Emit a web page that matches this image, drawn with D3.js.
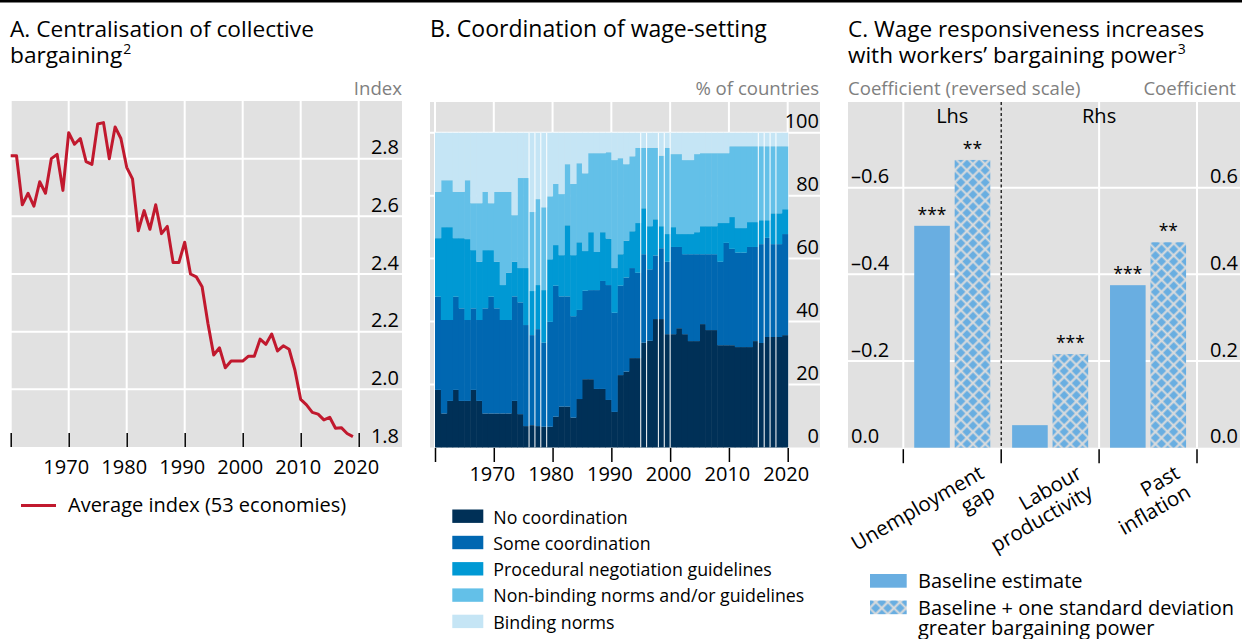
<!DOCTYPE html>
<html>
<head>
<meta charset="utf-8">
<script src="https://cdn.jsdelivr.net/npm/d3@7"></script>
<style>
  body { margin: 0; background: #fff; }
  svg { display: block; font-family: "Open Sans", sans-serif; }
</style>
</head>
<body>
<svg id="chart" width="1242" height="639"></svg>
<script>
// ---- data ----
var years = [1960, 1961, 1962, 1963, 1964, 1965, 1966, 1967, 1968, 1969,
             1970, 1971, 1972, 1973, 1974, 1975, 1976, 1977, 1978, 1979,
             1980, 1981, 1982, 1983, 1984, 1985, 1986, 1987, 1988, 1989,
             1990, 1991, 1992, 1993, 1994, 1995, 1996, 1997, 1998, 1999,
             2000, 2001, 2002, 2003, 2004, 2005, 2006, 2007, 2008, 2009,
             2010, 2011, 2012, 2013, 2014, 2015, 2016, 2017, 2018, 2019];

// panel A: average centralisation index
var indexValues = [2.81, 2.81, 2.64, 2.68, 2.635, 2.72, 2.68, 2.80, 2.815, 2.69,
                   2.89, 2.85, 2.87, 2.79, 2.78, 2.92, 2.925, 2.80, 2.91, 2.87,
                   2.77, 2.73, 2.55, 2.62, 2.555, 2.64, 2.54, 2.565, 2.44, 2.44,
                   2.51, 2.40, 2.39, 2.356, 2.229, 2.119, 2.144, 2.075, 2.098, 2.098,
                   2.098, 2.115, 2.115, 2.174, 2.156, 2.192, 2.133, 2.151, 2.139, 2.067,
                   1.965, 1.946, 1.92, 1.914, 1.894, 1.903, 1.865, 1.867, 1.847, 1.836];
var decades = [1960, 1970, 1980, 1990, 2000, 2010, 2020];
var indexTicks = [1.8, 2.0, 2.2, 2.4, 2.6, 2.8];

// panel B: share of countries by coordination type (%)
var coordCategories = ["No coordination", "Some coordination", "Procedural negotiation guidelines",
                       "Non-binding norms and/or guidelines", "Binding norms"];
var noCoordination = [18.3, 10.8, 14.8, 18.3, 14.8, 14.8, 18.3, 14.8, 10.8, 10.8,
                      10.8, 10.8, 10.8, 14.8, 10.6, 6.8, 7.1, 6.8, 6.6, 6.6,
                      9.8, 13.0, 13.0, 9.5, 15.4, 21.7, 21.7, 18.6, 18.6, 15.1,
                      11.3, 23.0, 24.1, 28.4, 28.4, 33.3, 33.9, 40.8, 40.8, 36.0,
                      36.0, 37.9, 36.0, 33.8, 33.8, 39.2, 37.3, 37.3, 32.5, 32.5,
                      32.5, 31.9, 31.9, 31.9, 33.8, 33.2, 35.1, 35.1, 35.1, 35.7];
var someCoordination = [29.6, 29.7, 25.7, 29.6, 29.4, 25.7, 25.9, 25.7, 33.4, 37.1,
                        33.4, 29.7, 29.7, 33.2, 35.5, 32.1, 28.6, 30.8, 26.7, 33.3,
                        41.6, 35.0, 35.0, 32.2, 28.3, 28.1, 28.3, 31.4, 34.3, 36.5,
                        31.5, 28.4, 29.9, 28.6, 27.1, 28.1, 22.7, 20.2, 22.5, 23.0,
                        27.7, 25.8, 25.4, 27.6, 27.6, 22.2, 24.1, 24.1, 26.5, 32.5,
                        30.6, 30.0, 30.0, 31.8, 29.9, 31.4, 31.5, 29.5, 29.5, 32.1];
var proceduralGuidelines = [18.6, 29.5, 29.5, 18.6, 22.3, 25.7, 18.5, 18.5, 18.5, 14.8,
                            14.8, 11.1, 15.0, 11.0, 10.9, 18.1, 14.0, 14.0, 16.7, 19.9,
                            12.9, 13.1, 22.6, 19.4, 21.5, 12.6, 18.4, 12.1, 15.5, 14.8,
                            14.2, 10.0, 11.7, 11.7, 15.8, 14.6, 13.7, 11.5, 7.0, 8.8,
                            6.3, 4.1, 6.4, 6.4, 7.0, 8.9, 8.9, 8.9, 12.3, 6.3,
                            10.1, 7.8, 7.8, 7.9, 7.9, 7.6, 5.6, 9.8, 9.8, 7.9];
var nonBindingNorms = [14.7, 14.9, 14.9, 14.7, 14.7, 18.7, 14.9, 18.6, 18.5, 14.9,
                       22.2, 29.6, 25.7, 14.8, 28.6, 28.6, 25.1, 27.3, 26.3, 20.0,
                       19.4, 19.4, 19.4, 22.6, 25.1, 24.7, 25.1, 31.4, 25.1, 27.4,
                       34.3, 30.5, 24.3, 23.8, 23.9, 19.2, 24.9, 22.7, 22.4, 27.4,
                       23.2, 25.4, 23.5, 23.5, 24.8, 23.2, 23.2, 23.2, 22.2, 22.2,
                       22.5, 26.0, 26.0, 24.1, 24.1, 23.5, 23.5, 21.3, 21.3, 20.0];
var bindingNorms = [18.8, 15.1, 15.1, 18.8, 18.8, 15.1, 22.4, 22.4, 18.8, 22.4,
                    18.8, 18.8, 18.8, 26.2, 14.4, 14.4, 25.2, 21.1, 23.7, 20.2,
                    16.3, 19.5, 10.0, 16.3, 9.7, 12.9, 6.5, 6.5, 6.5, 6.2,
                    8.7, 8.1, 10.0, 7.5, 4.8, 4.8, 4.8, 4.8, 7.3, 4.8,
                    6.8, 6.8, 8.7, 8.7, 6.8, 6.5, 6.5, 6.5, 6.5, 6.5,
                    4.3, 4.3, 4.3, 4.3, 4.3, 4.3, 4.3, 4.3, 4.3, 4.3];
// bar edges drawn with a white outline in the source
var outlinedEdges = [1976, 1977, 1978, 1979, 1995, 1996, 1998, 1999, 2000, 2015, 2016, 2017, 2018];
var shareTicks = [0, 20, 40, 60, 80, 100];

// panel C: regression coefficients
var factors = ["Unemployment gap", "Labour productivity", "Past inflation"];
var factorLines = [["Unemployment", "gap"], ["Labour", "productivity"], ["Past", "inflation"]];
var baselineCoef = [-0.512, 0.052, 0.375];
var strongerCoef = [-0.664, 0.216, 0.474];
var baselineStars = ["***", "", "***"];
var strongerStars = ["**", "***", "**"];
var lhsTicks = [0, -0.2, -0.4, -0.6];
var rhsTicks = [0, 0.2, 0.4, 0.6];

// ---- drawing ----
var svg = d3.select("#chart"),
    grey = "#e1e1e1",
    barBlue = "#69aee1",
    tickFont = 20;

var color = d3.scaleOrdinal()
    .domain(coordCategories)
    .range(["#003057", "#0067b1", "#0099d4", "#63c0e8", "#c5e5f5"]);

// hatch for "one standard deviation greater bargaining power"
var pat = svg.append("defs").append("pattern")
    .attr("id", "hatch")
    .attr("patternUnits", "userSpaceOnUse")
    .attr("width", 8.6).attr("height", 8.6)
    .attr("patternTransform", "rotate(45)");
pat.append("rect").attr("width", 8.6).attr("height", 8.6).attr("fill", barBlue);
pat.append("path").attr("d", "M0,4.3H8.6M4.3,0V8.6")
    .attr("stroke", "#dcdcdc").attr("stroke-width", 2.1);

// black rule at top
svg.append("rect").attr("x", 0).attr("y", 0).attr("width", 1242).attr("height", 2.5).attr("fill", "#000");

// panel title; the footnote mark is a separate text placed after the last line
function title(x, lines, sup, size) {
    var last;
    lines.forEach(function(l, i) {
        last = svg.append("text").attr("x", x).attr("y", 37 + i * 26)
            .attr("font-size", size).attr("fill", "#000").text(l);
    });
    if (sup) {
        var w = last.node().getComputedTextLength();
        svg.append("text").attr("x", x + w + 1).attr("y", 37 + (lines.length - 1) * 26 - 9)
            .attr("font-size", 14).text(sup);
    }
}

function unitLabel(x, anchor, txt) {
    svg.append("text").attr("x", x).attr("y", 95).attr("text-anchor", anchor)
        .attr("font-size", 18.6).attr("fill", "#7f7f7f").text(txt);
}

function tidyAxis(g, size) {
    g.attr("font-family", null).attr("font-size", size);
    g.select(".domain").remove();
    g.selectAll(".tick text").attr("fill", "#000");
    g.selectAll(".tick line").attr("stroke", "#000").attr("stroke-width", 1.5);
}

function gridV(g, xs, y0, y1) {
    g.selectAll(null).data(xs).enter().append("line")
        .attr("x1", function(d) { return d; }).attr("x2", function(d) { return d; })
        .attr("y1", y0).attr("y2", y1)
        .attr("stroke", "#fff").attr("stroke-width", 2);
}

function gridH(g, ys, x0, x1) {
    g.selectAll(null).data(ys).enter().append("line")
        .attr("y1", function(d) { return d; }).attr("y2", function(d) { return d; })
        .attr("x1", x0).attr("x2", x1)
        .attr("stroke", "#fff").attr("stroke-width", 2);
}

// ---------- Panel A ----------
function panelA() {
    var left = 10, right = 402, top = 101, bottom = 447;
    var x = d3.scaleLinear().domain([1960, 2020]).range([10.7, 358.7]);
    var y = d3.scaleLinear().domain([1.8, 3.0]).range([bottom, top]);
    var g = svg.append("g");

    title(10, ["A. Centralisation of collective", "bargaining"], "2", 22.7);
    unitLabel(right, "end", "Index");

    g.append("rect").attr("x", left).attr("y", top).attr("width", right - left)
        .attr("height", bottom - top).attr("fill", grey);
    gridV(g, decades.map(x), top, bottom);
    gridH(g, indexTicks.slice(1).map(y), left, right);

    g.append("g").attr("transform", "translate(0," + bottom + ")")
        .call(d3.axisBottom(x).tickValues(decades).tickSize(-14).tickPadding(13)
            .tickFormat(function(d) { return d === 1960 ? "" : d; }))
        .call(tidyAxis, tickFont)
        .selectAll(".tick text").attr("dx", -3);

    g.append("g").attr("transform", "translate(399,0)")
        .call(d3.axisLeft(y).tickValues(indexTicks).tickSize(0).tickPadding(0)
            .tickFormat(d3.format(".1f")))
        .call(tidyAxis, tickFont)
        .selectAll(".tick text").attr("dy", "-0.25em");

    var line = d3.line()
        .x(function(d, i) { return x(years[i]); })
        .y(function(d) { return y(d); });

    g.append("path").datum(indexValues)
        .attr("d", line)
        .attr("fill", "none").attr("stroke", "#c1192e")
        .attr("stroke-width", 3).attr("stroke-linejoin", "round");

    // legend
    g.append("line").attr("x1", 21).attr("x2", 56).attr("y1", 505.5).attr("y2", 505.5)
        .attr("stroke", "#c1192e").attr("stroke-width", 3.2);
    g.append("text").attr("x", 68).attr("y", 511.5).attr("font-size", 20)
        .text("Average index (53 economies)");
}

// ---------- Panel B ----------
function panelB() {
    var left = 430, right = 820, top = 102, bottom = 447.5;
    var x = d3.scaleLinear().domain([1960, 2020]).range([435, 787.7]);
    var y = d3.scaleLinear().domain([0, 100]).range([bottom, 132.7]);
    var g = svg.append("g");

    title(430, ["B. Coordination of wage-setting"], null, 23);
    unitLabel(819, "end", "% of countries");

    g.append("rect").attr("x", left).attr("y", top).attr("width", right - left)
        .attr("height", bottom - top).attr("fill", grey);
    gridV(g, decades.map(x), top, bottom);
    gridH(g, shareTicks.slice(1).map(y), left, right);

    var series = [noCoordination, someCoordination, proceduralGuidelines, nonBindingNorms, bindingNorms];
    var rows = years.map(function(yr, i) {
        var r = { year: yr };
        coordCategories.forEach(function(c, k) { r[c] = series[k][i]; });
        return r;
    });
    var stacked = d3.stack().keys(coordCategories)(rows);

    g.selectAll(".layer").data(stacked).enter().append("g")
        .attr("class", "layer")
        .attr("fill", function(d) { return color(d.key); })
        .selectAll("rect").data(function(d) { return d; }).enter().append("rect")
        .attr("x", function(d) { return x(d.data.year); })
        .attr("width", function(d) { return x(d.data.year + 1) - x(d.data.year) + 0.5; })
        .attr("y", function(d) { return y(d[1]); })
        .attr("height", function(d) { return y(d[0]) - y(d[1]); });

    g.selectAll(".edge").data(outlinedEdges).enter().append("line")
        .attr("x1", x).attr("x2", x)
        .attr("y1", y(100)).attr("y2", y(0))
        .attr("stroke", "#fff").attr("stroke-width", 1);

    g.append("g").attr("transform", "translate(0," + (bottom + 0.5) + ")")
        .call(d3.axisBottom(x).tickValues(decades).tickSize(14).tickPadding(5)
            .tickFormat(function(d) { return d === 1960 ? "" : d; }))
        .call(tidyAxis, tickFont)
        .selectAll(".tick text").attr("dx", -2);

    g.append("g").attr("transform", "translate(819,0)")
        .call(d3.axisLeft(y).tickValues(shareTicks).tickSize(0).tickPadding(0))
        .call(tidyAxis, tickFont)
        .selectAll(".tick text").attr("dy", "-0.25em");

    // legend
    var leg = g.selectAll(".leg").data(coordCategories).enter().append("g")
        .attr("transform", function(d, i) { return "translate(452.3," + (509.5 + i * 26.3) + ")"; });
    leg.append("rect").attr("width", 31).attr("height", 13.4).attr("fill", function(d) { return color(d); });
    leg.append("text").attr("x", 41).attr("y", 14).attr("font-size", 17.8).text(function(d) { return d; });
}

// ---------- Panel C ----------
function panelC() {
    var left = 848, right = 1240, top = 102, bottom = 447.7;
    var x0 = d3.scaleBand().domain(factors).range([903.3, 1197]);
    var x1 = d3.scaleBand().domain(["base", "strong"]).range([0, x0.bandwidth()])
        .paddingInner(0.12).paddingOuter(0.27);
    var yR = d3.scaleLinear().domain([0, 0.8]).range([bottom, 101]);
    var yL = d3.scaleLinear().domain([0, -0.8]).range([bottom, 101]);
    var g = svg.append("g");

    title(848, ["C. Wage responsiveness increases", "with workers\u2019 bargaining power"], "3", 22.5);
    unitLabel(848, "start", "Coefficient (reversed scale)");
    unitLabel(1236, "end", "Coefficient");

    g.append("rect").attr("x", left).attr("y", top).attr("width", right - left)
        .attr("height", bottom - top).attr("fill", grey);

    var edges = factors.map(function(f) { return x0(f); }).concat([x0.range()[1]]);
    gridV(g, [edges[0], edges[2], edges[3]], top, bottom);
    gridH(g, rhsTicks.slice(1).map(yR), left, right);

    g.append("line").attr("x1", edges[1]).attr("x2", edges[1]).attr("y1", top).attr("y2", bottom)
        .attr("stroke", "#000").attr("stroke-width", 1.2).attr("stroke-dasharray", "3,2.5");

    g.append("text").attr("x", x0(factors[0]) + x0.bandwidth() / 2).attr("y", 123)
        .attr("text-anchor", "middle").attr("font-size", tickFont).text("Lhs");
    g.append("text").attr("x", edges[2]).attr("y", 123)
        .attr("text-anchor", "middle").attr("font-size", tickFont).text("Rhs");

    var fmtL = function(d) { return d === 0 ? "0.0" : "\u2013" + Math.abs(d).toFixed(1); };
    g.append("g").attr("transform", "translate(851,0)")
        .call(d3.axisRight(yL).tickValues(lhsTicks).tickSize(0).tickPadding(0).tickFormat(fmtL))
        .call(tidyAxis, tickFont)
        .selectAll(".tick text").attr("dy", "-0.25em");
    g.append("g").attr("transform", "translate(1238,0)")
        .call(d3.axisLeft(yR).tickValues(rhsTicks).tickSize(0).tickPadding(0).tickFormat(d3.format(".1f")))
        .call(tidyAxis, tickFont)
        .selectAll(".tick text").attr("dy", "-0.25em");

    var bars = [];
    factors.forEach(function(f, i) {
        var sc = i === 0 ? yL : yR;
        bars.push({ f: f, k: "base", v: baselineCoef[i], s: baselineStars[i], y: sc });
        bars.push({ f: f, k: "strong", v: strongerCoef[i], s: strongerStars[i], y: sc });
    });

    var bg = g.selectAll(".bar").data(bars).enter().append("g");
    bg.append("rect")
        .attr("x", function(d) { return x0(d.f) + x1(d.k); })
        .attr("width", x1.bandwidth())
        .attr("y", function(d) { return d.y(d.v); })
        .attr("height", function(d) { return bottom - d.y(d.v); })
        .attr("fill", function(d) { return d.k === "base" ? barBlue : "url(#hatch)"; });
    bg.append("text")
        .attr("x", function(d) { return x0(d.f) + x1(d.k) + x1.bandwidth() / 2; })
        .attr("y", function(d) { return d.y(d.v) - 5; })
        .attr("text-anchor", "middle").attr("font-size", 17.5)
        .text(function(d) { return d.s; });

    // bottom ticks at group edges
    g.selectAll(".xt").data(edges).enter().append("line")
        .attr("x1", function(d) { return d; }).attr("x2", function(d) { return d; })
        .attr("y1", bottom + 1.5).attr("y2", bottom + 15.5)
        .attr("stroke", "#000").attr("stroke-width", 1.5);

    g.selectAll(".cat").data(factorLines).enter().append("text")
        .attr("transform", function(d, i) {
            return "translate(" + (x0(factors[i]) + x0.bandwidth() / 2 + 33) + ",477) rotate(-30)";
        })
        .attr("text-anchor", "end").attr("font-size", 20.5)
        .selectAll("tspan").data(function(d) { return d; }).enter().append("tspan")
        .attr("x", 0).attr("dy", function(d, j) { return j ? "1.08em" : 0; })
        .text(function(d) { return d; });

    // legend
    g.append("rect").attr("x", 870).attr("y", 574).attr("width", 36.7).attr("height", 13.7).attr("fill", barBlue);
    g.append("text").attr("x", 918).attr("y", 587.5).attr("font-size", 20).text("Baseline estimate");
    g.append("rect").attr("x", 870).attr("y", 600.5).attr("width", 36.7).attr("height", 13.7).attr("fill", "url(#hatch)");
    g.append("text").attr("x", 918).attr("y", 614.5).attr("font-size", 20)
        .text("Baseline + one standard deviation");
    g.append("text").attr("x", 918).attr("y", 635).attr("font-size", 20)
        .text("greater bargaining power");
}

panelA();
panelB();
panelC();
</script>
</body>
</html>
